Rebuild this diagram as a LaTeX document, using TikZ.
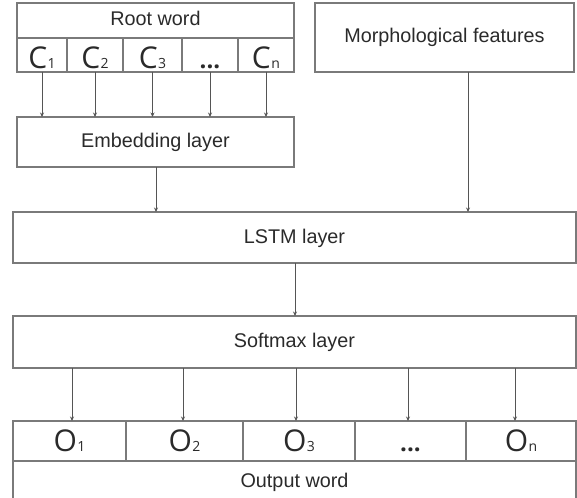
\documentclass[tikz,border=0pt]{standalone}
\usepackage{fontspec}
\setmainfont{Liberation Sans}
\newfontfamily\glyphfont{Open Sans}
\usetikzlibrary{arrows.meta}

\definecolor{edgegray}{HTML}{7A7A7A}
\definecolor{arrowgray}{HTML}{555555}
\definecolor{inkgray}{HTML}{2A2A2A}

% a big letter with a small index sitting on the same baseline
\newcommand\idxsym[2]{{\glyphfont\fontsize{30}{30}\selectfont #1\kern0.5pt\fontsize{14}{14}\selectfont #2}}
\newcommand\dotsym{{\glyphfont\bfseries\fontsize{24}{24}\selectfont ...}}

\tikzset{
  box/.style={draw=edgegray, line width=1.4pt, rectangle, inner sep=0pt, outer sep=0pt,
              text=inkgray, font=\fontsize{19.8}{19.8}\selectfont,
              text height=14pt, text depth=3pt},
  cellC/.style={box, text height=28pt, text depth=0pt},
  cellO/.style={box, text height=20pt, text depth=0pt},
  arr/.style={draw=arrowgray, line width=1pt,
              -{Stealth[length=4.5pt,width=4pt]}},
}

\begin{document}
\begin{tikzpicture}[x=1pt, y=-1pt]
\useasboundingbox (0,0) rectangle (577,497);
\clip (0,0) rectangle (577,497);

% input word and its characters
\node[box, minimum width=277pt, minimum height=35pt] (root) at (155.5,20.5) {Root word};
\node[cellC, minimum width=50pt, minimum height=34pt] (c1) at (42,55) {\idxsym{C}{1}};
\node[cellC, minimum width=56pt, minimum height=34pt] (c2) at (95,55) {\idxsym{C}{2}};
\node[cellC, minimum width=59pt, minimum height=34pt] (c3) at (152.5,55) {\idxsym{C}{3}};
\node[cellC, minimum width=56pt, minimum height=34pt] (c4) at (210,55) {\dotsym};
\node[cellC, minimum width=56pt, minimum height=34pt] (c5) at (266,55) {\idxsym{C}{n}};

\node[box, minimum width=259pt, minimum height=69pt] (morph) at (444.5,37.5) {Morphological features};

% network layers
\node[box, minimum width=277pt, minimum height=50pt] (emb) at (155.5,142) {Embedding layer};
\node[box, minimum width=563pt, minimum height=51pt] (lstm) at (294.5,237.5) {LSTM layer};
\node[box, minimum width=563pt, minimum height=52pt] (soft) at (294.5,342) {Softmax layer};

% output word and its characters
\node[cellO, minimum width=113pt, minimum height=40pt] (o1) at (69.5,441) {\idxsym{O}{1}};
\node[cellO, minimum width=117pt, minimum height=40pt] (o2) at (184.5,441) {\idxsym{O}{2}};
\node[cellO, minimum width=112pt, minimum height=40pt] (o3) at (299,441) {\idxsym{O}{3}};
\node[cellO, minimum width=111pt, minimum height=40pt] (o4) at (410.5,441) {\dotsym};
\node[cellO, minimum width=110pt, minimum height=40pt] (o5) at (521,441) {\idxsym{O}{n}};
\node[box, minimum width=563pt, minimum height=42pt] (out) at (294.5,482) {Output word};

% characters into the embedding layer
\foreach \c in {c1,c2,c3,c4,c5}
  \draw[arr] (\c.south) -- (\c.south |- emb.north);

% into and out of the LSTM layer
\coordinate (e1) at (156,167);
\draw[arr] (e1) -- (e1 |- lstm.north);
\coordinate (m1) at (468,72);
\draw[arr] (m1) -- (m1 |- lstm.north);
\coordinate (l1) at (295,263);
\draw[arr] (l1) -- (l1 |- soft.north);

% softmax into the output characters
\foreach \x [count=\i] in {72,183,296,408,515} {
  \coordinate (s\i) at (\x,368);
  \draw[arr] (s\i) -- (s\i |- o\i.north);
}
\end{tikzpicture}
\end{document}
